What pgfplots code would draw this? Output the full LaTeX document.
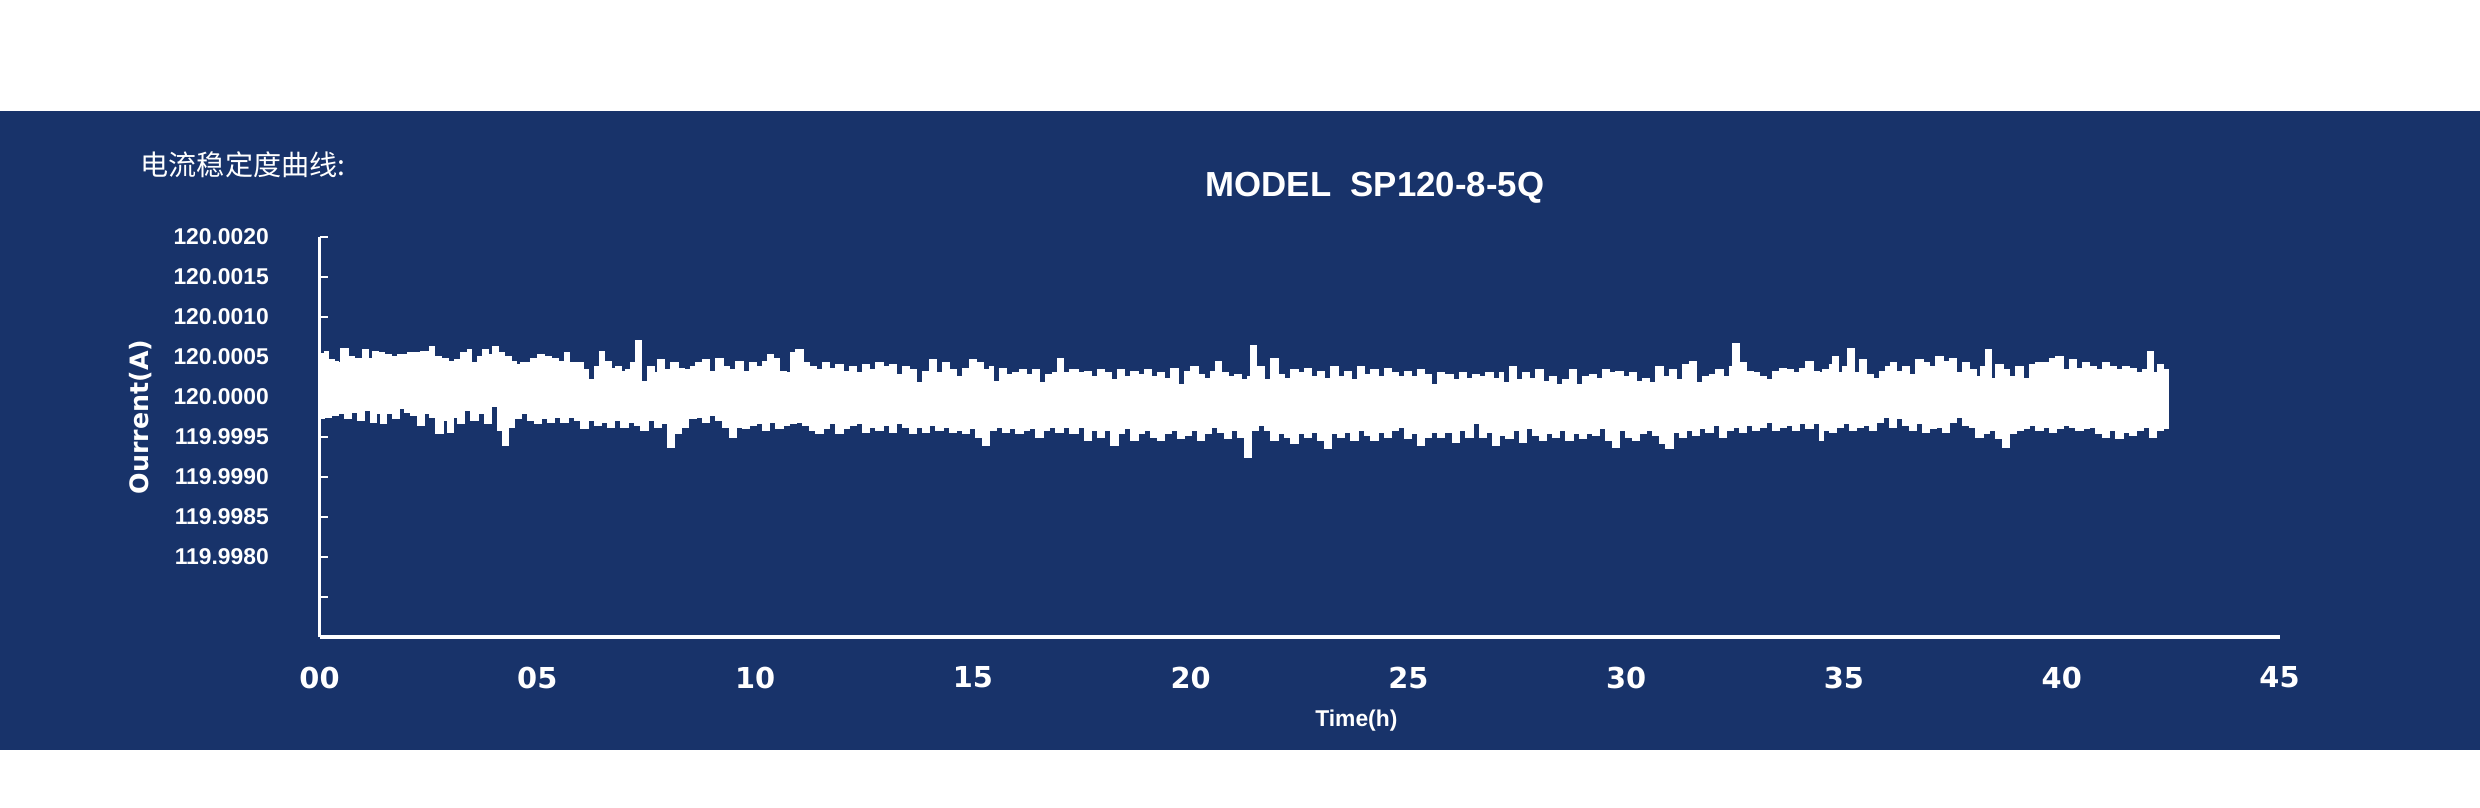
\documentclass[border=0pt]{standalone}
\usepackage{pgfplots}
\pgfplotsset{compat=1.18}
\usepackage{pgfplotstable}
\usepackage{fontspec}
\setmainfont{Liberation Sans}
\newfontfamily\djv{DejaVu Sans}
\newfontfamily\cjk{Noto Sans CJK SC}
\definecolor{bgblue}{RGB}{24,51,106}

% t in hours; y = deviation from 120 A in microamperes (120.0005 A -> 500)
\pgfplotstableread{
t y
0 540
0.115 567
0.191 463
0.344 442
0.42 421
0.497 608
0.56 608
0.65 504
0.803 483
0.995 587
1.11 483
1.224 567
1.339 546
1.492 525
1.645 504
1.798 525
2.028 546
2.181 546
2.334 567
2.525 629
2.64 504
2.793 483
2.946 442
3.099 463
3.252 546
3.405 587
3.482 421
3.635 504
3.75 587
3.865 525
3.979 629
4.094 546
4.247 504
4.4 442
4.515 400
4.63 421
4.86 483
5.013 525
5.166 504
5.319 483
5.472 442
5.625 546
5.74 421
5.931 421
6.046 338
6.16 213
6.313 379
6.428 567
6.543 442
6.696 358
6.811 379
6.926 317
7.04 338
7.155 421
7.27 700
7.385 192
7.538 379
7.691 296
7.768 463
7.921 338
8.074 421
8.227 358
8.38 338
8.533 379
8.648 421
8.801 463
8.954 317
9.107 483
9.26 379
9.413 338
9.566 442
9.719 317
9.873 421
10.026 379
10.179 442
10.293 525
10.408 483
10.561 317
10.714 296
10.829 546
10.944 587
11.097 421
11.25 379
11.403 338
11.556 421
11.709 358
11.862 400
12.015 317
12.168 379
12.322 296
12.475 400
12.628 338
12.781 421
12.934 379
13.087 400
13.24 275
13.393 379
13.546 338
13.699 171
13.852 317
14.005 463
14.158 296
14.311 421
14.464 338
14.617 254
14.77 358
14.924 463
15.077 421
15.23 338
15.383 379
15.459 192
15.612 358
15.765 275
15.918 296
16.071 338
16.225 275
16.378 338
16.531 171
16.684 275
16.837 296
16.952 483
17.066 296
17.219 338
17.411 296
17.564 317
17.717 254
17.87 338
18.023 296
18.176 213
18.329 338
18.483 254
18.636 317
18.789 275
18.942 338
19.095 254
19.248 296
19.401 233
19.554 358
19.707 150
19.86 317
20.013 379
20.166 275
20.319 233
20.472 317
20.587 442
20.702 296
20.855 254
21.008 275
21.161 213
21.314 254
21.391 640
21.505 379
21.697 213
21.85 483
22.003 275
22.156 233
22.309 338
22.462 296
22.615 358
22.768 254
22.921 317
23.074 233
23.227 379
23.38 254
23.534 317
23.687 213
23.84 379
23.993 275
24.146 338
24.299 254
24.452 358
24.605 296
24.758 254
24.911 317
25.064 254
25.217 338
25.37 275
25.523 150
25.676 296
25.829 275
26.02 213
26.173 296
26.326 233
26.479 275
26.632 254
26.785 296
26.938 233
27.091 296
27.168 171
27.321 379
27.474 213
27.627 296
27.78 233
27.933 338
28.087 192
28.24 254
28.393 150
28.546 213
28.699 338
28.852 150
29.005 254
29.158 275
29.311 233
29.464 338
29.617 296
29.77 317
29.923 254
30.076 296
30.229 192
30.382 233
30.535 171
30.688 379
30.841 254
30.995 338
31.148 213
31.301 400
31.454 442
31.607 171
31.76 254
31.913 275
32.066 338
32.219 254
32.372 379
32.449 660
32.602 421
32.755 317
32.908 296
33.061 254
33.214 213
33.367 317
33.52 358
33.673 338
33.826 296
33.979 358
34.132 442
34.285 317
34.438 296
34.515 338
34.668 400
34.745 504
34.86 296
34.974 379
35.089 608
35.166 608
35.242 296
35.357 463
35.51 275
35.663 233
35.816 317
35.969 379
36.084 421
36.199 317
36.352 379
36.505 275
36.658 463
36.811 421
36.964 379
37.117 504
37.27 442
37.423 483
37.576 296
37.729 421
37.882 338
38.035 254
38.15 379
38.265 587
38.38 233
38.495 400
38.648 338
38.801 254
38.954 379
39.107 233
39.26 400
39.413 421
39.566 421
39.719 483
39.872 504
40.025 338
40.178 463
40.331 358
40.484 421
40.637 379
40.791 338
40.944 421
41.097 379
41.25 338
41.403 379
41.556 358
41.709 296
41.862 338
41.977 567
42.092 296
42.206 400
42.321 338
42.436 338
}\upperdata

\pgfplotstableread{
t y
0 -288
0.115 -267
0.268 -246
0.421 -225
0.574 -204
0.727 -267
0.88 -183
1.033 -288
1.186 -162
1.301 -308
1.416 -204
1.53 -329
1.683 -204
1.837 -267
1.952 -142
2.104 -183
2.257 -225
2.41 -350
2.525 -204
2.678 -246
2.831 -454
2.946 -288
3.061 -433
3.176 -246
3.329 -329
3.482 -162
3.635 -288
3.788 -204
3.941 -329
4.094 -110
4.209 -413
4.324 -600
4.477 -371
4.63 -267
4.783 -204
4.936 -288
5.089 -329
5.242 -267
5.395 -308
5.548 -246
5.701 -308
5.854 -246
6.007 -288
6.16 -392
6.313 -288
6.466 -350
6.62 -308
6.773 -371
6.926 -288
7.079 -371
7.232 -308
7.385 -350
7.538 -413
7.691 -288
7.844 -371
7.997 -329
8.15 -621
8.303 -454
8.456 -371
8.648 -267
8.801 -246
8.954 -308
9.107 -225
9.26 -288
9.413 -371
9.566 -496
9.719 -371
9.873 -392
10.026 -350
10.179 -329
10.332 -413
10.485 -308
10.638 -392
10.791 -350
10.944 -329
11.097 -308
11.25 -350
11.403 -413
11.556 -454
11.709 -392
11.862 -329
12.015 -454
12.168 -392
12.322 -350
12.475 -329
12.628 -433
12.781 -371
12.934 -413
13.087 -350
13.24 -433
13.393 -329
13.546 -371
13.699 -454
13.852 -371
14.005 -433
14.158 -350
14.311 -413
14.464 -371
14.617 -433
14.77 -413
14.924 -454
15.077 -392
15.23 -496
15.383 -600
15.536 -413
15.689 -371
15.842 -433
15.995 -392
16.148 -454
16.301 -413
16.454 -392
16.607 -496
16.76 -413
16.913 -371
17.066 -433
17.219 -371
17.411 -454
17.564 -371
17.717 -538
17.87 -413
18.023 -496
18.176 -413
18.329 -600
18.483 -454
18.636 -392
18.789 -538
18.942 -454
19.095 -413
19.248 -496
19.401 -538
19.554 -454
19.707 -413
19.86 -517
20.013 -475
20.166 -413
20.319 -538
20.472 -454
20.625 -371
20.778 -433
20.932 -517
21.085 -413
21.238 -496
21.391 -750
21.544 -413
21.697 -350
21.85 -413
22.003 -538
22.156 -454
22.309 -496
22.462 -579
22.615 -454
22.768 -496
22.921 -433
23.074 -538
23.227 -642
23.38 -454
23.534 -496
23.687 -433
23.84 -538
23.993 -413
24.146 -475
24.299 -538
24.452 -433
24.605 -496
24.758 -413
24.911 -371
25.064 -517
25.217 -454
25.37 -600
25.523 -496
25.676 -433
25.829 -496
26.02 -433
26.173 -558
26.326 -413
26.479 -496
26.632 -329
26.785 -496
26.938 -433
27.091 -600
27.245 -475
27.398 -517
27.551 -413
27.704 -558
27.857 -392
28.01 -475
28.163 -538
28.316 -454
28.469 -496
28.622 -413
28.775 -538
28.928 -454
29.081 -517
29.234 -454
29.387 -475
29.541 -392
29.694 -538
29.847 -621
30.0 -413
30.153 -496
30.306 -538
30.459 -454
30.612 -413
30.765 -475
30.918 -579
31.071 -642
31.224 -433
31.377 -496
31.53 -413
31.683 -475
31.836 -392
31.989 -433
32.142 -350
32.295 -496
32.449 -413
32.602 -371
32.755 -433
32.908 -350
33.061 -413
33.214 -371
33.367 -308
33.52 -413
33.673 -371
33.826 -350
33.979 -413
34.132 -329
34.285 -392
34.438 -329
34.515 -538
34.668 -413
34.821 -433
34.974 -371
35.127 -329
35.28 -413
35.433 -371
35.587 -350
35.74 -413
35.893 -308
36.046 -246
36.199 -371
36.352 -267
36.505 -350
36.658 -413
36.811 -329
36.964 -433
37.117 -392
37.27 -371
37.423 -433
37.576 -308
37.729 -246
37.882 -350
38.035 -371
38.189 -496
38.342 -454
38.495 -413
38.648 -517
38.801 -621
38.954 -454
39.107 -413
39.26 -392
39.413 -350
39.566 -413
39.719 -371
39.872 -433
40.025 -392
40.178 -350
40.331 -371
40.484 -413
40.637 -392
40.791 -371
40.944 -454
41.097 -496
41.25 -413
41.403 -517
41.556 -433
41.709 -475
41.862 -413
42.015 -371
42.168 -496
42.321 -413
42.436 -392
}\lowerdata

% band outline: upper edge left to right, then lower edge right to left
\pgfplotstablesort[sort key=t, sort cmp=float >]{\lowerrev}{\lowerdata}
\pgfplotstablevertcat{\upperdata}{\lowerrev}

\begin{document}
\begin{tikzpicture}
\fill[white] (0,0) rectangle (248mm,80.7mm);
\fill[bgblue] (0,5.7mm) rectangle (248mm,69.6mm);
\node[anchor=west, text=white, font=\cjk\fontsize{8}{9}\selectfont, inner sep=0pt] at (14.0mm,64.2mm) {电流稳定度曲线:};
\begin{axis}[
  at={(31.95mm,17mm)}, anchor=south west,
  scale only axis, width=196mm, height=40mm,
  xmin=0, xmax=45, ymin=-3000, ymax=2000,
  axis x line=bottom, axis y line=left,
  axis line style={white, line width=0.9pt, -},
  xtick={0,5,...,45},
  xticklabels={00,05,10,15,20,25,30,35,40,45},
  x tick style={draw=none},
  ytick={-2500,-2000,...,2000},
  yticklabels={{},119.9980,119.9985,119.9990,119.9995,120.0000,120.0005,120.0010,120.0015,120.0020},
  y tick style={white, line width=0.8pt},
  tick align=inside, major tick length=0.8mm,
  xticklabel style={font=\djv\bfseries\fontsize{8.2}{9}\selectfont, text=white, anchor=north, inner sep=0pt, yshift=-2.9mm},
  yticklabel style={font=\bfseries\fontsize{6.5}{7}\selectfont, text=white, anchor=east, inner sep=0pt, xshift=-5mm},
  title={MODEL\ \ SP120-8-5Q},
  title style={font=\bfseries\fontsize{9.9}{11}\selectfont, text=white, at={(0.5385,1.07)}, anchor=center},
  xlabel={Time(h)},
  xlabel style={font=\bfseries\fontsize{6.5}{7}\selectfont, text=white, at={(0.529,-0.21)}, anchor=center},
  ylabel={Ourrent(A)},
  ylabel style={font=\djv\bfseries\fontsize{7.2}{8}\selectfont, text=white, at={(-0.0911,0.55)}, anchor=center},
]
\addplot[const plot, draw=white, fill=white, line width=0.5pt] table {\upperdata} -- cycle;
\end{axis}
\end{tikzpicture}
\end{document}
